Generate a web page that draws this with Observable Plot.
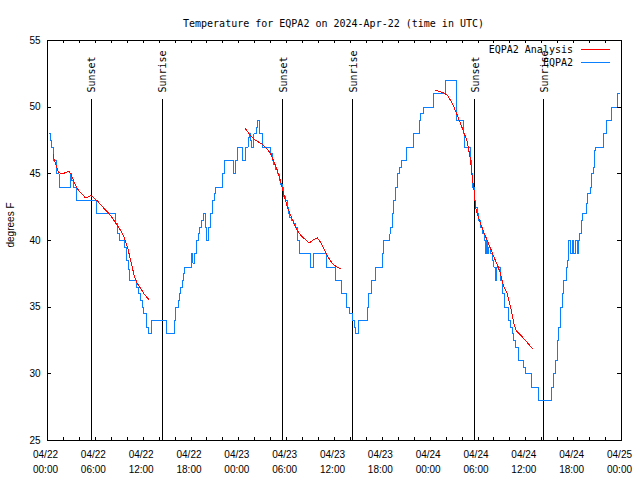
<!DOCTYPE html>
<html><head><meta charset="utf-8">
<script src="https://cdn.jsdelivr.net/npm/d3@7"></script>
<script src="https://cdn.jsdelivr.net/npm/@observablehq/plot@0.6"></script>
<style>
body{margin:0;background:#fff}
#wrap{position:relative;width:640px;height:480px}
#legend{position:absolute;top:43px;left:0;width:610px;font:10px "DejaVu Sans Mono",monospace;color:#000}
#legend .row{display:flex;justify-content:flex-end;align-items:center;height:13px}
#legend .sw{display:inline-block;width:29px;height:1px;margin-left:8px}
</style></head><body><div id="wrap"></div>
<script>
// ---- data (hours since 2024-04-22 00:00 UTC) ----
const obsHours = [0.2,0.35,0.55,0.8,1.1,1.45,2.85,3.0,3.25,3.67,6.2,8.5,8.8,9.0,9.7,9.95,10.15,10.3,11.2,11.4,11.65,11.9,12.1,12.45,12.7,13.1,14.95,15.95,16.1,16.4,16.55,16.7,16.9,17.05,17.15,18.05,18.25,18.45,18.7,18.9,19.1,19.35,19.55,19.85,20.0,20.15,20.4,20.7,20.9,21.1,21.95,22.2,23.3,23.6,23.8,24.5,24.85,25.15,25.3,25.5,25.6,25.9,26.2,26.35,26.6,26.95,28.0,28.2,28.4,28.6,28.85,29.05,29.25,29.45,29.65,29.9,30.1,30.2,30.4,30.6,30.9,31.15,31.35,31.55,33.0,33.35,35.0,36.15,36.85,37.5,37.9,38.25,38.45,38.65,39.05,40.1,40.3,40.6,41.15,42.0,42.2,42.95,43.05,43.25,43.45,43.65,43.9,44.1,44.4,45.05,45.9,46.6,46.8,47.15,48.4,49.95,51.3,52.15,52.35,53.05,53.2,53.3,53.5,53.7,53.9,54.1,54.33,54.6,54.8,54.95,55.1,55.25,55.35,55.6,55.8,56.0,56.2,56.3,56.83,57.05,57.37,57.87,58.09,58.3,58.5,58.71,59.13,59.75,59.97,60.68,61.63,63.19,63.44,63.73,63.94,64.14,64.36,64.57,64.77,65.11,65.27,65.4,65.6,65.9,66.02,66.23,66.45,66.65,66.78,66.99,67.15,67.58,67.7,68.1,68.24,68.45,68.62,68.75,69.71,70.08,70.71,71.46,71.79];
const obsTemps = [48,47.5,47,46,45,44,45,44.5,44,43,42,41.3,40.5,40,39.5,38.5,37.8,37,36.5,36,35.5,35,34.5,33.5,33,34,33,34,35,35.5,36,36.5,37,37.5,38,39,38.3,39,40,40.5,41,41.5,42,41,40,41,42,43,43.5,44,45,46,45,46,47,46,47,47.7,48,47.5,47,48,48.5,49,48,47,46.5,46,45.7,45.3,45,44.5,44.2,44,43.3,43,42.5,42,41.7,41.5,41.3,41,40,39,38,39,38,37,36,35,34.5,34,33.5,33,34,35,36,37,38,39,40,40.5,41,42,43,44,45,45.5,46,47,48,49,49.5,50,51,52,49,48,47,46,45,44,43,42.5,42,41.5,41,40.5,40,39,40,39,39.5,39,38.5,38,37,38,37,36,35,34,33.5,33,32.5,32,31,30.5,30,29,28,29,30,31,32.5,33.5,35,36,37,38,38.5,40,39,40,39,40,39,40,40.5,41.5,42,42.75,43.5,44,45,45.5,46.75,47,48,49,50,51,51];

const ana1Hours = [0.7,0.83,1.04,1.25,1.45,1.67,1.88,2.3,2.7,2.92,3.13,3.33,3.55,3.76,3.96,4.39,4.68,5.0,5.43,5.84,6.27,6.68,7.1,7.52,7.94,8.35,8.78,9.19,9.6,10.03,10.44,10.86,11.28,11.7,12.11,12.74];
const ana1Temps = [46.45,46.1,45.7,45.3,45.1,45.0,45.0,45.1,45.2,45.0,44.7,44.4,44.1,43.9,43.7,43.45,43.25,43.25,43.35,43.2,42.95,42.7,42.4,42.15,41.85,41.5,41.1,40.75,40.25,39.5,38.5,37.4,36.75,36.4,36.0,35.55];
const ana2Hours = [24.77,25.28,25.7,26.12,26.74,27.16,27.58,28.0,28.41,28.84,29.25,29.66,30.09,30.5,30.92,31.34,31.76,32.38,32.8,33.22,33.85,34.27,34.68,35.1,35.52,35.93,36.69];
const ana2Temps = [48.45,48.0,47.75,47.5,47.3,47.1,46.85,46.5,45.9,45.25,44.4,43.4,42.5,41.9,41.25,40.75,40.4,40.05,39.8,40.0,40.2,39.85,39.35,38.85,38.45,38.15,37.9];
const ana3Hours = [48.68,49.65,50.15,50.56,50.98,51.4,51.82,52.23,52.66,53.07,53.28,53.5,53.7,53.9,54.33,54.74,55.17,55.58,56.0,56.42,56.83,57.25,57.67,58.09,58.5,58.84,59.34,59.97,60.81];
const ana3Temps = [51.25,51.1,50.9,50.5,50.0,49.4,48.75,48.1,47.4,46.0,44.75,43.75,42.5,42.0,41.25,40.6,40.0,39.4,38.75,38.2,37.5,36.5,36.0,35.0,33.75,33.2,32.9,32.5,31.9];

const sunHours = [5.47,14.37,29.54,38.31,53.61,62.26];
const sunLabels = ["Sunset","Sunrise","Sunset","Sunrise","Sunset","Sunrise"];
const yTicks = [25,30,35,40,45,50,55];
const minorTickHours = d3.range(0, 73, 2);
const labelTickHours = d3.range(0, 73, 6);
const titleText = "Temperature for EQPA2 on 2024-Apr-22 (time in UTC)";
const yLabel = "degrees F";
const seriesNames = ["EQPA2 Analysis", "EQPA2"];

// ---- build ----
const base = Date.UTC(2024, 3, 22);
const T = h => new Date(base + h * 3600e3);
const obs = obsHours.map((h, i) => ({t: T(h), v: obsTemps[i]}));
const ana = [];
[[ana1Hours, ana1Temps], [ana2Hours, ana2Temps], [ana3Hours, ana3Temps]].forEach(([hs, vs], s) =>
  hs.forEach((h, i) => ana.push({t: T(h), v: vs[i], seg: s})));
const BLUE = "#0a80ff", RED = "#ff0000";
const MONO = "DejaVu Sans Mono";
const fmt = d3.utcFormat("%m/%d\n%H:%M");

const chart = Plot.plot({
  width: 640, height: 480,
  marginLeft: 47, marginRight: 19, marginTop: 40, marginBottom: 40,
  x: {type: "utc", domain: [T(0), T(72)], axis: null},
  y: {domain: [25, 55], axis: null},
  style: {fontFamily: "Liberation Sans", fontSize: "10px", background: "white", shapeRendering: "crispEdges"},
  marks: [
    Plot.ruleX(sunHours, {x: h => T(h), insetTop: 59, stroke: "black", strokeWidth: 1}),
    Plot.text(sunHours, {x: h => T(h), text: (d, i) => sunLabels[i], frameAnchor: "top", dy: 52, dx: -3, rotate: -90, textAnchor: "start", fontFamily: MONO, fontSize: 10, fill: "black"}),
    Plot.line(obs, {x: "t", y: "v", curve: "step-after", stroke: BLUE, strokeWidth: 1}),
    Plot.line(ana, {x: "t", y: "v", z: "seg", stroke: RED, strokeWidth: 1}),
    Plot.tickX(minorTickHours, {x: h => T(h), insetTop: 397, stroke: "black"}),
    Plot.tickX(minorTickHours, {x: h => T(h), insetBottom: 397, stroke: "black"}),
    Plot.tickY(yTicks, {y: d => d, insetRight: 570, stroke: "black"}),
    Plot.tickY(yTicks, {y: d => d, insetLeft: 570, stroke: "black"}),
    Plot.text(labelTickHours, {x: h => T(h), text: h => fmt(T(h)), frameAnchor: "bottom", dy: 7, dx: -2, lineAnchor: "top", lineHeight: 1.5, fill: "black"}),
    Plot.text(yTicks, {y: d => d, text: d => String(d), frameAnchor: "left", dx: -7, textAnchor: "end", fill: "black"}),
    Plot.text([yLabel], {text: d => d, frameAnchor: "left", dx: -37, dy: 7, rotate: -90, fill: "black"}),
    Plot.text([titleText], {text: d => d, frameAnchor: "top", dy: -21, dx: -1, fontFamily: MONO, fontSize: 10, fill: "black"}),
    Plot.frame({stroke: "black"})
  ]
});

const wrap = document.getElementById("wrap");
wrap.appendChild(chart);
const legend = document.createElement("div");
legend.id = "legend";
[[seriesNames[0], RED], [seriesNames[1], BLUE]].forEach(([name, c]) => {
  const row = document.createElement("div");
  row.className = "row";
  const lab = document.createElement("span");
  lab.textContent = name;
  const sw = document.createElement("span");
  sw.className = "sw";
  sw.style.background = c;
  row.appendChild(lab); row.appendChild(sw);
  legend.appendChild(row);
});
wrap.appendChild(legend);
</script></body></html>
